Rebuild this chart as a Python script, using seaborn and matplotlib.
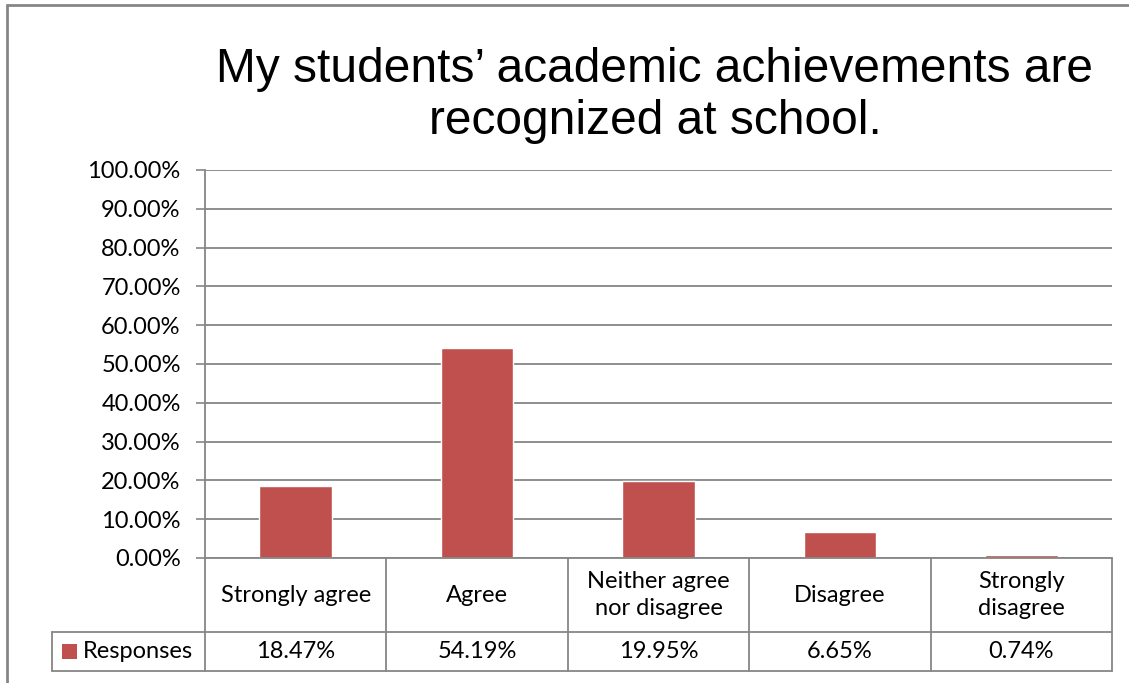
import matplotlib
matplotlib.use('Agg')

import matplotlib.pyplot as plt
import seaborn as sns
import pandas as pd
from matplotlib.lines import Line2D
from matplotlib.patches import Rectangle
from matplotlib.ticker import FuncFormatter

# data
categories = ['Strongly agree', 'Agree', 'Neither agree\nnor disagree', 'Disagree', 'Strongly\ndisagree']
responses = [18.47, 54.19, 19.95, 6.65, 0.74]
series_name = 'Responses'
title = 'My students\u2019 academic achievements are\nrecognized at school.'

BAR = '#C0504D'
GRID = '#868686'
W, H = 1129, 683
FS = 17

sns.set_style('white')
plt.rcParams['font.family'] = ['Lato', 'DejaVu Sans']
plt.rcParams['text.color'] = 'black'

df = pd.DataFrame({'cat': categories, 'val': responses})

fig = plt.figure(figsize=(W / 100, H / 100), dpi=100)
ax = fig.add_axes([205 / W, 1 - 558 / H, (1112 - 205) / W, (558 - 170) / H])

sns.barplot(data=df, x='cat', y='val', color=BAR, width=0.4, saturation=1, ax=ax)

ax.set_ylim(0, 100)
ax.set_xlim(-0.5, len(categories) - 0.5)
ax.set_yticks(range(0, 101, 10))
ax.yaxis.set_major_formatter(FuncFormatter(lambda v, p: '%.2f%%' % v))
ax.tick_params(axis='y', labelsize=FS, length=6.5, width=1.2, color=GRID, pad=11, left=True,
               labelcolor='black')
ax.set_xticks([])
ax.set_xlabel('')
ax.set_ylabel('')
ax.grid(axis='y', color=GRID, linewidth=1.3)
ax.set_axisbelow(True)
for s in ['top', 'right', 'bottom']:
    ax.spines[s].set_visible(False)
ax.spines['left'].set_color(GRID)
ax.spines['left'].set_linewidth(1.3)

# data table under the plot
tr = ax.transAxes
r1 = -(632 - 558) / (558 - 170)
r2 = -(671 - 558) / (558 - 170)
leg_left = (52 - 205) / (1112 - 205)
n = len(categories)
lk = dict(color=GRID, linewidth=1.3, transform=tr, clip_on=False)
ax.add_line(Line2D([0, 1], [0, 0], **lk))
ax.add_line(Line2D([leg_left, 1], [r1, r1], **lk))
ax.add_line(Line2D([leg_left, 1], [r2, r2], **lk))
ax.add_line(Line2D([leg_left, leg_left], [r1, r2], **lk))
for i in range(n + 1):
    ax.add_line(Line2D([i / n, i / n], [0, r2], **lk))
for i, (c, v) in enumerate(zip(categories, responses)):
    x = (i + 0.5) / n
    ax.text(x, r1 / 2, c, transform=tr, ha='center', va='center', fontsize=FS, linespacing=1.4)
    ax.text(x, (r1 + r2) / 2, '%.2f%%' % v, transform=tr, ha='center', va='center', fontsize=FS)

# legend key in the table
sq_w = 15 / (1112 - 205)
sq_h = 15 / (558 - 170)
ym = (r1 + r2) / 2
ax.add_patch(Rectangle((leg_left + 10 / 907, ym - sq_h / 2), sq_w, sq_h, facecolor=BAR,
                       edgecolor='none', transform=tr, clip_on=False))
ax.text(leg_left + 31 / 907, ym, series_name, transform=tr, ha='left', va='center', fontsize=FS)

# title
fig.text(655 / W, 1 - 96 / H, title, ha='center', va='center', fontsize=34.5, color='black',
         family=['Liberation Sans', 'DejaVu Sans'], linespacing=1.2)

# outer chart frame (cut off at right and bottom)
fig.add_artist(Line2D([7 / W, 1], [1 - 5 / H, 1 - 5 / H], color=GRID, linewidth=2, transform=fig.transFigure))
fig.add_artist(Line2D([7 / W, 7 / W], [0, 1 - 5 / H], color=GRID, linewidth=2, transform=fig.transFigure))

fig.savefig('out.png', dpi=100)
